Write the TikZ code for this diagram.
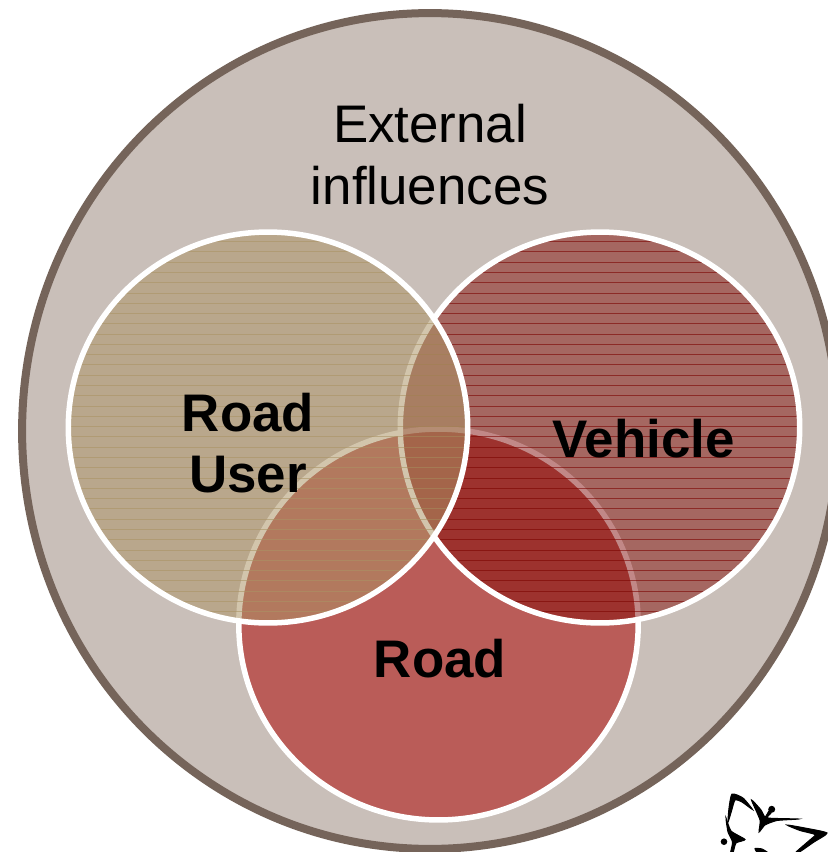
\documentclass[tikz,border=0pt]{standalone}
\usepackage{fontspec}
\usetikzlibrary{shapes.geometric}
\setmainfont{Liberation Sans}
\definecolor{outerfill}{RGB}{201,191,185}
\definecolor{outerline}{RGB}{117,100,90}
\definecolor{userfill}{RGB}{171,147,100}
\definecolor{vehiclefill}{RGB}{125,4,0}
\definecolor{roadfill}{RGB}{181,59,56}
\begin{document}
\begin{tikzpicture}[x=0.02cm,y=-0.02cm,
	set node/.style={ellipse,draw=white,line width=0.11cm,minimum width=7.99cm,minimum height=7.82cm,inner sep=0pt},
	plain label/.style={align=center,inner sep=0pt,font=\fontsize{30.1}{35}\selectfont},
	bold label/.style={align=center,inner sep=0pt,font=\fontsize{30.1}{35}\selectfont\bfseries},
	leaf/.style={fill=black,draw=black,line width=0.02cm,tension=0.35}]
	\clip (0,0) rectangle (828,852);
	\fill[white] (0,0) rectangle (828,852);
	\node[ellipse,draw=outerline,fill=outerfill,line width=0.16cm,minimum width=16.32cm,minimum height=16.72cm,inner sep=0pt] (outer) at (430,431) {};
	\node[plain label] (external) at (430,154.5) {External\\influences};

	\node[set node,fill=roadfill,fill opacity=0.75] (road) at (438.5,624.5) {};

	\begin{scope}
		\clip (600,427.5) ellipse (200 and 195);
		\foreach \k in {0,...,38}
			\draw[vehiclefill,opacity=0.6,line width=0.02cm] (390,241.6+10.28*\k) -- (810,241.6+10.28*\k);
	\end{scope}
	\node[set node,fill=vehiclefill,fill opacity=0.47] (vehicle) at (600,427.5) {};

	\begin{scope}
		\clip (268,427.5) ellipse (200 and 195);
		\foreach \k in {0,...,38}
			\draw[userfill,opacity=0.6,line width=0.02cm] (60,241.6+10.28*\k) -- (480,241.6+10.28*\k);
	\end{scope}
	\node[set node,fill=userfill,fill opacity=0.53] (user) at (268,427.5) {};

	\node[bold label] (userlabel) at (248,443) {Road\\User};
	\node[bold label] (vehiclelabel) at (643.5,439) {Vehicle};
	\node[bold label] (roadlabel) at (440,659) {Road};

	% leaf in the corner
	\fill[leaf] plot[smooth cycle] coordinates {(728,822) (729,808) (732,794) (743,798) (752.5,809.5) (742,802) (735,800) (731.5,811)};
	\fill[leaf] plot[smooth cycle] coordinates {(751.5,800) (761,810) (765,817) (769,811) (771,813) (768,818) (798.5,819) (777,820.5) (765,825) (759,832) (760,820)};
	\fill[black] (771.7,809.3) circle (3.5);
	\fill[leaf] plot[smooth cycle] coordinates {(787,825) (805,828) (827,833) (814,842) (798,853) (796,852) (811,839) (815,834.5) (800,830.5)};
	\fill[leaf] plot[smooth cycle] coordinates {(726,818) (731,831) (745,839.5) (736,843) (733,853) (730.5,853) (732.5,842) (728,832)};
	\fill[black] (724,841.7) circle (3.3);
	\fill[leaf] plot[smooth cycle] coordinates {(755,848.5) (762,849) (768,853) (758,853)};
\end{tikzpicture}
\end{document}
